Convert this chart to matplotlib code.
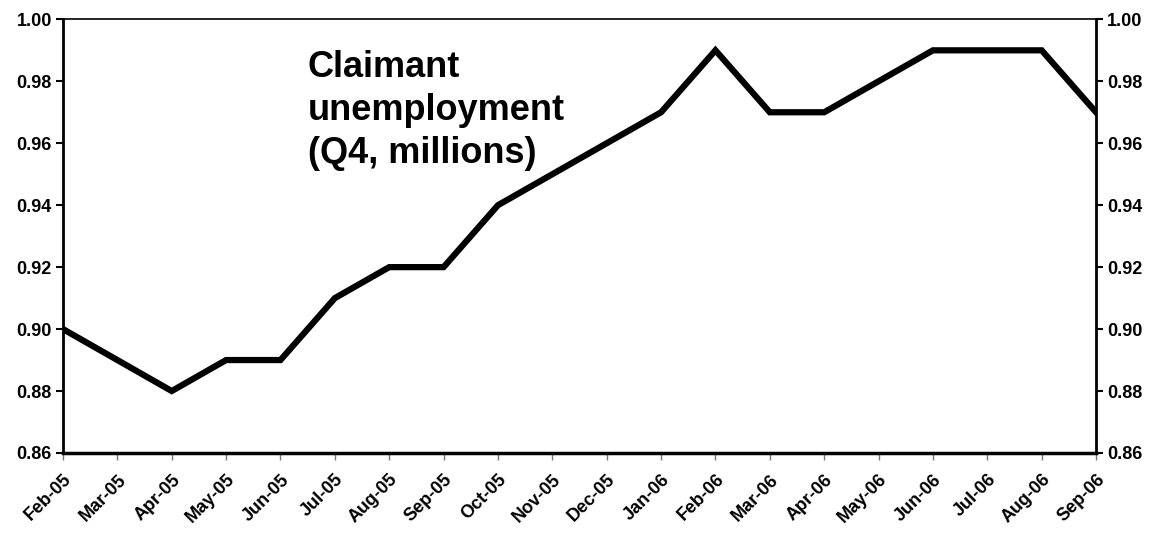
import matplotlib
matplotlib.use('Agg')
import matplotlib.pyplot as plt

plt.rcParams['font.family'] = ['Liberation Sans', 'DejaVu Sans']
plt.rcParams['font.weight'] = 'bold'

# 月份标签与数值
months = ['Feb-05', 'Mar-05', 'Apr-05', 'May-05', 'Jun-05', 'Jul-05', 'Aug-05',
          'Sep-05', 'Oct-05', 'Nov-05', 'Dec-05', 'Jan-06', 'Feb-06', 'Mar-06',
          'Apr-06', 'May-06', 'Jun-06', 'Jul-06', 'Aug-06', 'Sep-06']
claimants = [0.90, 0.89, 0.88, 0.89, 0.89, 0.91, 0.92, 0.92, 0.94, 0.95,
             0.96, 0.97, 0.99, 0.97, 0.97, 0.98, 0.99, 0.99, 0.99, 0.97]
yticks = [0.86, 0.88, 0.90, 0.92, 0.94, 0.96, 0.98, 1.00]

fig = plt.figure(figsize=(11.58, 5.39), dpi=100)
ax = fig.add_axes([0.0544, 0.1596, 0.8921, 0.8045])
x = list(range(len(months)))
ax.plot(x, claimants, color='black', linewidth=4.5, solid_joinstyle='miter')

ax.set_xlim(0, len(months) - 1)
ax.set_ylim(0.86, 1.00)
ax.set_yticks(yticks)
ax.set_yticklabels(['%.2f' % v for v in yticks], fontsize=13, fontweight='bold')
ax.set_xticks(x)
ax.set_xticklabels(months, rotation=45, ha='right', rotation_mode='anchor',
                   fontsize=13, fontweight='bold')
ax.tick_params(axis='x', length=5, width=1, color='#777777', direction='out', pad=8)
ax.tick_params(axis='y', length=5, width=1.5, direction='out', pad=3,
               labelright=True, right=True)

for side in ['left', 'right']:
    ax.spines[side].set_linewidth(2)
ax.spines['bottom'].set_linewidth(2.5)
ax.spines['top'].set_linewidth(1.2)

ax.text(0.237, 0.93, 'Claimant\nunemployment\n(Q4, millions)', transform=ax.transAxes,
        fontsize=26, fontweight='bold', va='top', ha='left', linespacing=1.3)

plt.savefig('out.png', dpi=100)
plt.close()
